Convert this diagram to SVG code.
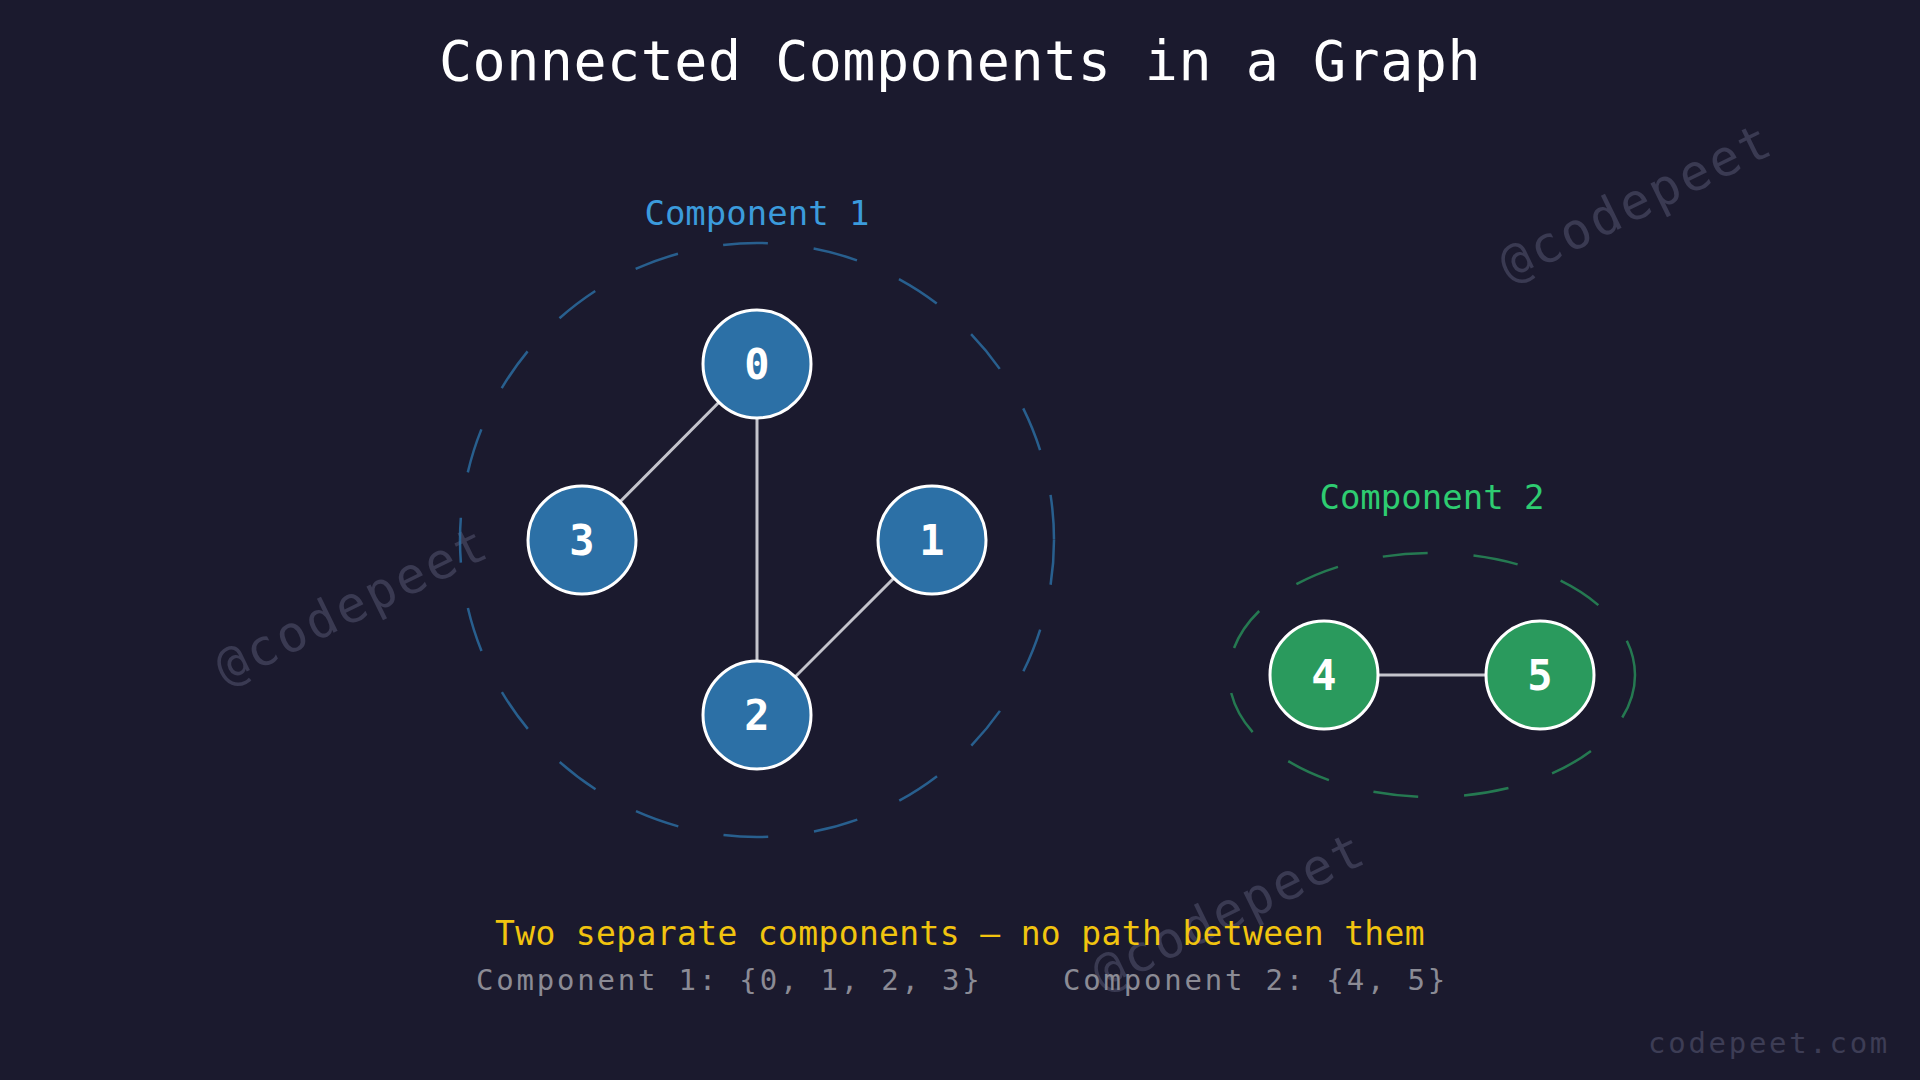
<svg xmlns="http://www.w3.org/2000/svg" width="1920" height="1080" viewBox="0 0 1920 1080">
<style>
text{font-family:"DejaVu Sans Mono","Liberation Mono",monospace}
.title{font-size:55px;fill:#ffffff;text-anchor:middle;letter-spacing:0.5px}
.wm{font-size:50px;fill:#3a3a52;text-anchor:middle;dominant-baseline:central;letter-spacing:3px}
.lbl{font-size:42px;font-weight:bold;fill:#ffffff;text-anchor:middle}
.n1{fill:#2c70a6;stroke:#ffffff;stroke-width:3}
.n2{fill:#2a9a5d;stroke:#ffffff;stroke-width:3}
.edge{stroke:#c4c4cc;stroke-width:3;fill:none}
.c1{font-size:34px;fill:#3b9bdc;text-anchor:middle}
.c2{font-size:34px;fill:#2ecc71;text-anchor:middle}
.ring1{fill:none;stroke:#2c70a6;stroke-opacity:0.8;stroke-width:2.5;stroke-dasharray:45 46}
.ring2{fill:none;stroke:#2a9a5d;stroke-opacity:0.75;stroke-width:2.5;stroke-dasharray:45 46}
.note{font-size:33px;fill:#f1c40f;text-anchor:middle;letter-spacing:0.35px}
.sub{font-size:29px;fill:#8b8b95;letter-spacing:2.8px}
.brand{font-size:29px;fill:#3d3d55;text-anchor:end;letter-spacing:2.7px}
</style>
<rect width="1920" height="1080" fill="#1b1a2e"/>
<g id="watermarks">
<text class="wm" transform="translate(1636,202) rotate(-26)">@codepeet</text>
<text class="wm" transform="translate(352,605) rotate(-26)">@codepeet</text>
<text class="wm" transform="translate(1229,911) rotate(-26)">@codepeet</text>
</g>
<text class="title" x="960" y="80">Connected Components in a Graph</text>
<g id="component1">
<circle class="ring1" cx="757" cy="540" r="297"/>
<text class="c1" x="757" y="225">Component 1</text>
</g>
<g id="component2">
<ellipse class="ring2" cx="1432" cy="675" rx="203" ry="122"/>
<text class="c2" x="1432" y="509">Component 2</text>
</g>
<g id="connectors">
<line class="edge" x1="757" y1="364" x2="582" y2="540"/>
<line class="edge" x1="757" y1="364" x2="757" y2="715"/>
<line class="edge" x1="757" y1="715" x2="932" y2="540"/>
<line class="edge" x1="1324" y1="675" x2="1540" y2="675"/>
</g>
<g id="node0"><circle class="n1" cx="757" cy="364" r="54"/><text class="lbl" x="757" y="379">0</text></g>
<g id="node3"><circle class="n1" cx="582" cy="540" r="54"/><text class="lbl" x="582" y="555">3</text></g>
<g id="node1"><circle class="n1" cx="932" cy="540" r="54"/><text class="lbl" x="932" y="555">1</text></g>
<g id="node2"><circle class="n1" cx="757" cy="715" r="54"/><text class="lbl" x="757" y="730">2</text></g>
<g id="node4"><circle class="n2" cx="1324" cy="675" r="54"/><text class="lbl" x="1324" y="690">4</text></g>
<g id="node5"><circle class="n2" cx="1540" cy="675" r="54"/><text class="lbl" x="1540" y="690">5</text></g>
<text class="note" x="960" y="945">Two separate components — no path between them</text>
<text class="sub" x="476" y="990">Component 1: {0, 1, 2, 3}</text>
<text class="sub" x="1063" y="990">Component 2: {4, 5}</text>
<text class="brand" x="1890" y="1053">codepeet.com</text>
</svg>
